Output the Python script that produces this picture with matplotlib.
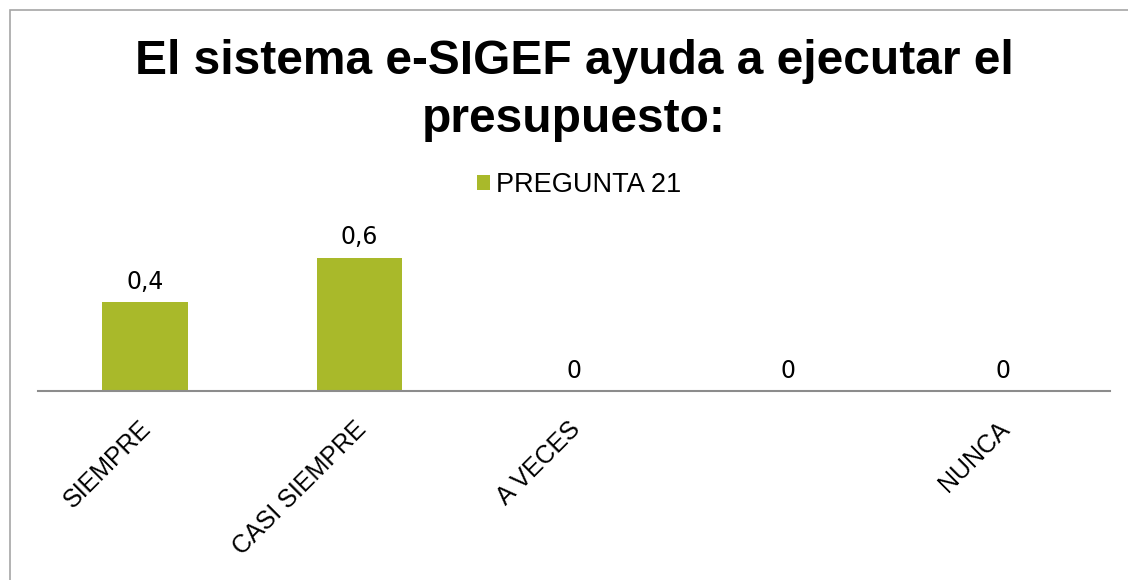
import matplotlib.pyplot as plt
from matplotlib.patches import Rectangle
from matplotlib.transforms import ScaledTranslation

# datos de la pregunta 21
categorias = ['SIEMPRE', 'CASI SIEMPRE', 'A VECES', '', 'NUNCA']
valores = [0.4, 0.6, 0, 0, 0]
serie = 'PREGUNTA 21'
titulo = 'El sistema e-SIGEF ayuda a ejecutar el\npresupuesto:'

verde = '#a9b92a'

plt.rcParams['font.family'] = ['Liberation Sans', 'DejaVu Sans']

fig = plt.figure(figsize=(11.28, 5.8), dpi=100)

# marco gris del grafico (sale por la derecha y abajo)
fig.patches.append(Rectangle((10 / 1128, -0.5), 2.0, 1.5 - 10 / 580,
                             transform=fig.transFigure, fill=False,
                             edgecolor='#a6a6a6', linewidth=1.2))

ax = fig.add_axes([38 / 1128, (580 - 391) / 580, (1110 - 38) / 1128, 178 / 580])

x = range(len(categorias))
barras = ax.bar(x, valores, width=0.4, color=verde, label=serie)

for xi, v in zip(x, valores):
    ax.annotate(str(v).replace('.', ','), (xi, v), xytext=(0, 6),
                textcoords='offset points', ha='center', va='bottom',
                fontsize=17, family='DejaVu Sans')

ax.set_xlim(-0.5, len(categorias) - 0.5)
ax.set_ylim(0, 0.8)
ax.set_yticks([])
ax.set_xticks(list(x))
ax.set_xticklabels(categorias, rotation=45, ha='right', rotation_mode='anchor',
                   fontsize=18)
ax.tick_params(axis='x', length=0, pad=17)
# correr un poco las etiquetas hacia la izquierda
desplaza = ScaledTranslation(-0.06, -0.02, fig.dpi_scale_trans)
for lab in ax.get_xticklabels():
    lab.set_transform(lab.get_transform() + desplaza)

for lado in ['top', 'right', 'left']:
    ax.spines[lado].set_visible(False)
ax.spines['bottom'].set_color('#8c8c8c')
ax.spines['bottom'].set_linewidth(1.5)

fig.text(0.509, 1 - 39 / 580, titulo, ha='center', va='top', fontsize=34.5,
         fontweight='bold', linespacing=1.37)

fig.legend(loc='center', bbox_to_anchor=(0.513, 1 - 185 / 580), frameon=False,
           fontsize=19.5, handlelength=0.5, handleheight=0.5, handletextpad=0.2)

fig.savefig('out.png', dpi=100)
